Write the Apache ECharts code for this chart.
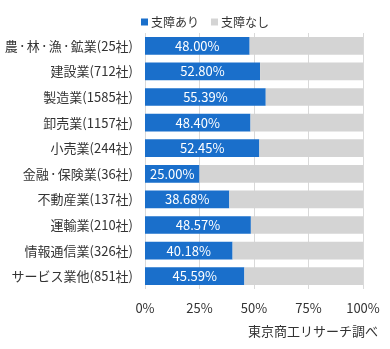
<!DOCTYPE html>
<html><head><meta charset="utf-8">
<script src="https://cdn.jsdelivr.net/npm/echarts@6/dist/echarts.min.js"></script>
<style>html,body{margin:0;padding:0;background:#fff}#c{width:390px;height:349px}</style>
</head><body><div id="c"></div>
<script>
const categories = ["農・林・漁・鉱業(25社)","建設業(712社)","製造業(1585社)","卸売業(1157社)","小売業(244社)","金融・保険業(36社)","不動産業(137社)","運輸業(210社)","情報通信業(326社)","サービス業他(851社)"];
const withIssue = [48.00,52.80,55.39,48.40,52.45,25.00,38.68,48.57,40.18,45.59];
const withoutIssue = [52.00,47.20,44.61,51.60,47.55,75.00,61.32,51.43,59.82,54.41];
const xTicks = [0,25,50,75,100];
const font = '"Noto Sans CJK JP", "Noto Sans", sans-serif';
const chart = echarts.init(document.getElementById('c'));
chart.setOption({
  animation:false,
  textStyle:{fontFamily:font},
  legend:{top:11,left:136,itemWidth:7,itemHeight:7,itemGap:12,icon:'rect',
    textStyle:{fontSize:12,color:'#333',fontFamily:font,padding:[0,0,0,-2]},
    data:['支障あり','支障なし']},
  grid:{left:145,right:27,top:33,bottom:60,outerBoundsMode:'none',containLabel:false},
  xAxis:{type:'value',min:xTicks[0],max:xTicks[xTicks.length-1],interval:25,
    axisLabel:{formatter:v=>v+'%',fontSize:13,color:'#333',margin:13,fontFamily:font},
    axisLine:{show:false},axisTick:{show:false},
    splitLine:{show:true,lineStyle:{color:'#d9d9d9',width:1}}},
  yAxis:{type:'category',inverse:true,data:categories,
    axisLabel:{fontSize:13,color:'#333',margin:12,fontFamily:font,
      formatter:v=>v.split('・').join('{d|・}'),
      rich:{d:{fontSize:9,color:'#333',fontFamily:font}}},
    axisLine:{show:false},axisTick:{show:false}},
  series:[
    {name:'支障あり',type:'bar',stack:'a',barWidth:'69%',data:withIssue,
     itemStyle:{color:'#1a6fcb'},
     label:{show:true,position:'inside',formatter:p=>p.value.toFixed(2)+'%',color:'#fff',fontSize:13,fontFamily:font}},
    {name:'支障なし',type:'bar',stack:'a',barWidth:'69%',data:withoutIssue,
     itemStyle:{color:'#d4d4d4'}}
  ],
  graphic:[{type:'text',right:12,top:325,style:{text:'東京商工リサーチ調べ',fontSize:13,fill:'#333',fontFamily:font}}]
});
</script></body></html>
